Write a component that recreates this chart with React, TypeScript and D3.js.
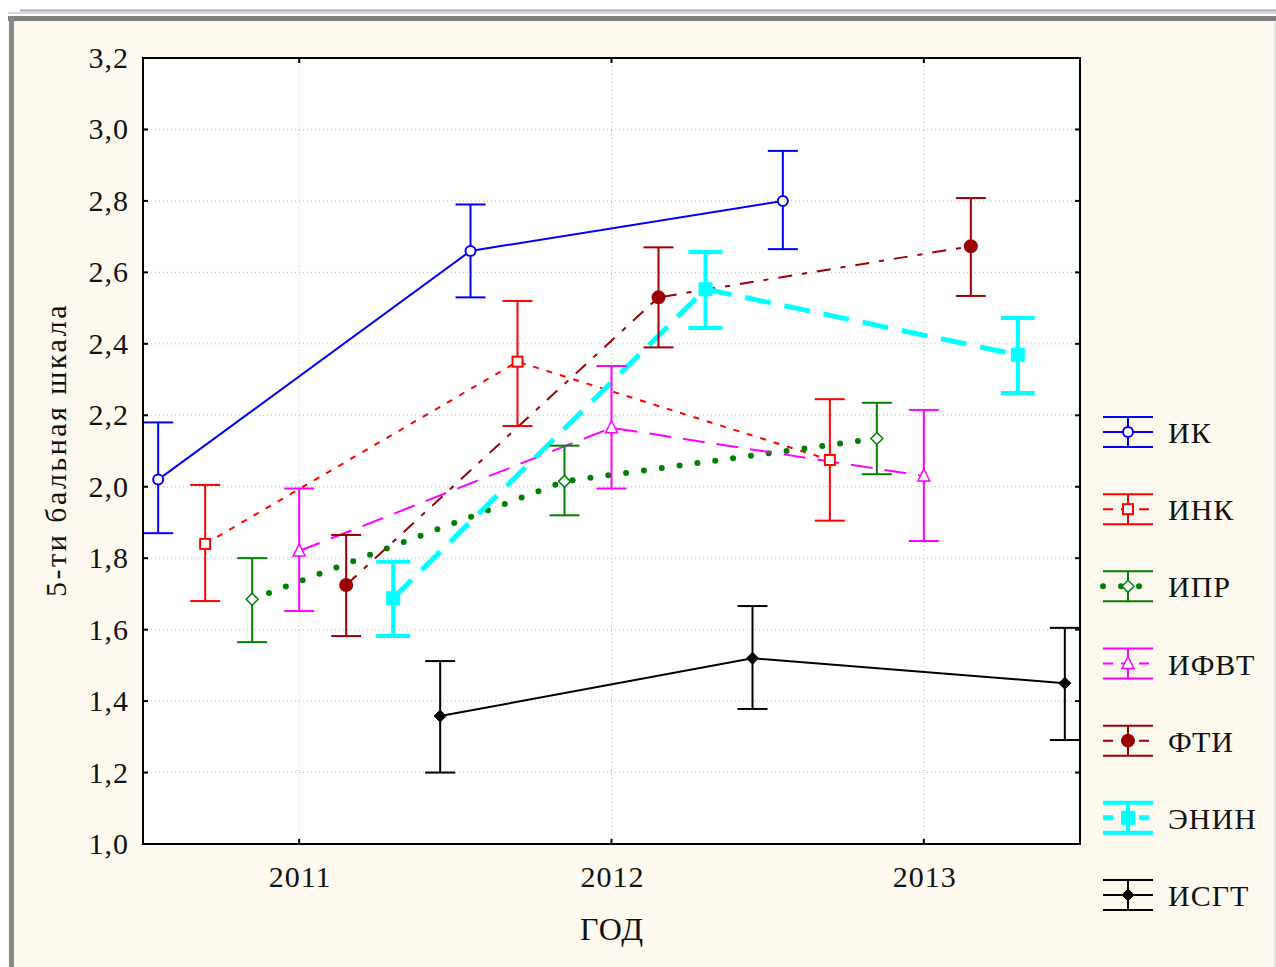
import React from "react";
import * as d3 from "d3";

// year labels on the x axis
const years = ["2011", "2012", "2013"];
const yTicks = [1.0, 1.2, 1.4, 1.6, 1.8, 2.0, 2.2, 2.4, 2.6, 2.8, 3.0, 3.2];
const groups = ["ИК", "ИНК", "ИПР", "ИФВТ", "ФТИ", "ЭНИН", "ИСГТ"];

// [mean, lower, upper] for 2011, 2012, 2013
const ik = [[2.02, 1.87, 2.18], [2.66, 2.53, 2.79], [2.8, 2.665, 2.94]];
const ink = [[1.84, 1.68, 2.005], [2.35, 2.17, 2.52], [2.075, 1.905, 2.245]];
const ipr = [[1.685, 1.565, 1.8], [2.015, 1.92, 2.115], [2.135, 2.035, 2.235]];
const ifvt = [[1.82, 1.652, 1.995], [2.165, 1.995, 2.338], [2.03, 1.848, 2.215]];
const fti = [[1.725, 1.582, 1.865], [2.53, 2.39, 2.67], [2.673, 2.534, 2.808]];
const enin = [[1.688, 1.582, 1.79], [2.553, 2.444, 2.657], [2.369, 2.262, 2.472]];
const isgt = [[1.358, 1.2, 1.512], [1.52, 1.378, 1.666], [1.45, 1.291, 1.605]];

const seriesData = [ik, ink, ipr, ifvt, fti, enin, isgt];

const styles = [
	{ color: "#0000FF", width: 2, dash: undefined, cap: "butt", barW: 2, marker: "circle", fill: false },
	{ color: "#FF0000", width: 2, dash: "6 8", cap: "butt", barW: 2, marker: "square", fill: false },
	{ color: "#008000", width: 6, dash: "0 18", cap: "round", barW: 2, marker: "diamond", fill: false },
	{ color: "#FF00FF", width: 2, dash: "22 12", cap: "butt", barW: 2, marker: "triangle", fill: false },
	{ color: "#9C0000", width: 2, dash: "14 10 5 10", cap: "butt", barW: 2, marker: "circle", fill: true },
	{ color: "#00FFFF", width: 5, dash: "26 14", cap: "butt", barW: 4, marker: "square", fill: true },
	{ color: "#000000", width: 2, dash: undefined, cap: "butt", barW: 2, marker: "diamond", fill: true },
];

const W = 1276;
const H = 967;
const left = 143;
const right = 1080;
const top = 58;
const bottom = 844;
const font = "'Liberation Serif', 'Times New Roman', serif";

const x = d3.scalePoint().domain(years).range([left, right]).padding(0.5);
const offset = d3.scalePoint().domain(groups).range([-141, 141]);
const y = d3.scaleLinear().domain([1.0, 3.2]).range([bottom, top]);

function Marker(props: { kind: string; cx: number; cy: number; color: string; fill: boolean }) {
	const { kind, cx, cy, color, fill } = props;
	const f = fill ? color : "#fff";
	if (kind === "circle") {
		return <circle cx={cx} cy={cy} r={fill ? 6 : 5} fill={f} stroke={color} strokeWidth={2} />;
	}
	if (kind === "square") {
		const s = fill ? 12 : 10;
		return <rect x={cx - s / 2} y={cy - s / 2} width={s} height={s} fill={f} stroke={color} strokeWidth={2} />;
	}
	if (kind === "diamond") {
		const r = 6;
		return (
			<path
				d={`M${cx},${cy - r}L${cx + r},${cy}L${cx},${cy + r}L${cx - r},${cy}Z`}
				fill={f}
				stroke={color}
				strokeWidth={fill ? 1 : 1.5}
			/>
		);
	}
	// triangle
	return (
		<path
			d={`M${cx},${cy - 7}L${cx + 6},${cy + 5}L${cx - 6},${cy + 5}Z`}
			fill={f}
			stroke={color}
			strokeWidth={1.5}
		/>
	);
}

const line = d3
	.line<[number, number]>()
	.x((d) => d[0])
	.y((d) => d[1]);

export default function App() {
	const legendY = d3.scalePoint().domain(groups).range([432, 895]);
	const txt = { fontFamily: font };
	return (
		<div style={{ position: "absolute", left: 0, top: 0 }}>
			<svg width={W} height={H} style={{ display: "block" }}>
				<rect width={W} height={H} fill="#fff" />
				<rect x={8} y={16} width={W - 8} height={H - 16} fill="#FDF9EE" />
				<line x1={20} x2={W} y1={10.5} y2={10.5} stroke="#A4A6C4" strokeWidth={2} />
				<line x1={8} x2={W} y1={13} y2={13} stroke="#D8D8DC" strokeWidth={2} />
				<rect x={8} y={16} width={W - 8} height={5} fill="#7E7E7E" />
				<rect x={9} y={16} width={5} height={H - 16} fill="#8A8A8A" />
				<line x1={W - 1} x2={W - 1} y1={22} y2={H} stroke="#E4E2DA" strokeWidth={2} />

				<rect x={left} y={top} width={right - left} height={bottom - top} fill="#fff" />

				{/* grid */}
				{yTicks.slice(1, -1).map((t) => (
					<line key={t} x1={left} x2={right} y1={y(t)} y2={y(t)} stroke="#B8B8B8" strokeDasharray="1 3" />
				))}
				{years.map((yr) => (
					<line key={yr} x1={x(yr)} x2={x(yr)} y1={top} y2={bottom} stroke="#B8B8B8" strokeDasharray="1 3" />
				))}

				{/* series lines */}
				{seriesData.map((s, i) => {
					const st = styles[i];
					const pts = s.map((d, j) => [x(years[j])! + offset(groups[i])!, y(d[0])] as [number, number]);
					return (
						<path
							key={groups[i]}
							d={line(pts) || ""}
							fill="none"
							stroke={st.color}
							strokeWidth={st.width}
							strokeDasharray={st.dash}
							strokeLinecap={st.cap as any}
						/>
					);
				})}

				{/* error bars and markers */}
				{seriesData.map((s, i) => {
					const st = styles[i];
					return (
						<g key={groups[i]}>
							{s.map((d, j) => {
								const cx = x(years[j])! + offset(groups[i])!;
								const hw = st.barW > 2 ? 17 : 15;
								return (
									<g key={j} stroke={st.color} strokeWidth={st.barW}>
										<line x1={cx} x2={cx} y1={y(d[1])} y2={y(d[2])} />
										<line x1={cx - hw} x2={cx + hw} y1={y(d[1])} y2={y(d[1])} />
										<line x1={cx - hw} x2={cx + hw} y1={y(d[2])} y2={y(d[2])} />
									</g>
								);
							})}
							{s.map((d, j) => (
								<Marker
									key={"m" + j}
									kind={st.marker}
									cx={x(years[j])! + offset(groups[i])!}
									cy={y(d[0])}
									color={st.color}
									fill={st.fill}
								/>
							))}
						</g>
					);
				})}

				{/* frame and inward ticks */}
				<rect x={left} y={top} width={right - left} height={bottom - top} fill="none" stroke="#000" strokeWidth={2} />
				{yTicks.slice(1, -1).map((t) => (
					<g key={t} stroke="#000" strokeWidth={2}>
						<line x1={left} x2={left + 5} y1={y(t)} y2={y(t)} />
						<line x1={right - 5} x2={right} y1={y(t)} y2={y(t)} />
					</g>
				))}
				{years.map((yr) => (
					<g key={yr} stroke="#000" strokeWidth={2}>
						<line x1={x(yr)} x2={x(yr)} y1={top} y2={top + 5} />
						<line x1={x(yr)} x2={x(yr)} y1={bottom - 5} y2={bottom} />
					</g>
				))}

				{/* tick labels */}
				{yTicks.map((t) => (
					<text key={t} x={129} y={y(t) + 10} textAnchor="end" fontSize={30} letterSpacing={1} fill="#111" style={txt}>
						{t.toFixed(1).replace(".", ",")}
					</text>
				))}
				{years.map((yr) => (
					<text key={yr} x={x(yr)! + 1} y={887} textAnchor="middle" fontSize={30} letterSpacing={1} fill="#111" style={txt}>
						{yr}
					</text>
				))}
				<text x={612} y={940} textAnchor="middle" fontSize={32} letterSpacing={1} fill="#111" style={txt}>
					ГОД
				</text>
				<text
					transform="translate(66,450) rotate(-90)"
					textAnchor="middle"
					fontSize={30}
					letterSpacing={2.5}
					fill="#111"
					style={txt}
				>
					5-ти бальная шкала
				</text>

				{/* legend */}
				{groups.map((g, i) => {
					const st = styles[i];
					const ly = legendY(g)!;
					const cx = 1128;
					return (
						<g key={g}>
							<g stroke={st.color} strokeWidth={st.barW > 2 ? 4 : 2}>
								<line x1={1103} x2={1153} y1={ly - 15} y2={ly - 15} />
								<line x1={1103} x2={1153} y1={ly + 15} y2={ly + 15} />
								<line x1={cx} x2={cx} y1={ly - 15} y2={ly + 15} />
							</g>
							<line
								x1={1103}
								x2={1153}
								y1={ly}
								y2={ly}
								stroke={st.color}
								strokeWidth={st.width}
								strokeDasharray={st.dash ? (i === 2 ? "0 18" : "10 8") : undefined}
								strokeLinecap={st.cap as any}
							/>
							<Marker kind={st.marker} cx={cx} cy={ly} color={st.color} fill={st.fill} />
							<text x={1168} y={ly + 11} fontSize={30} letterSpacing={1} fill="#111" style={txt}>
								{g}
							</text>
						</g>
					);
				})}
			</svg>
		</div>
	);
}
